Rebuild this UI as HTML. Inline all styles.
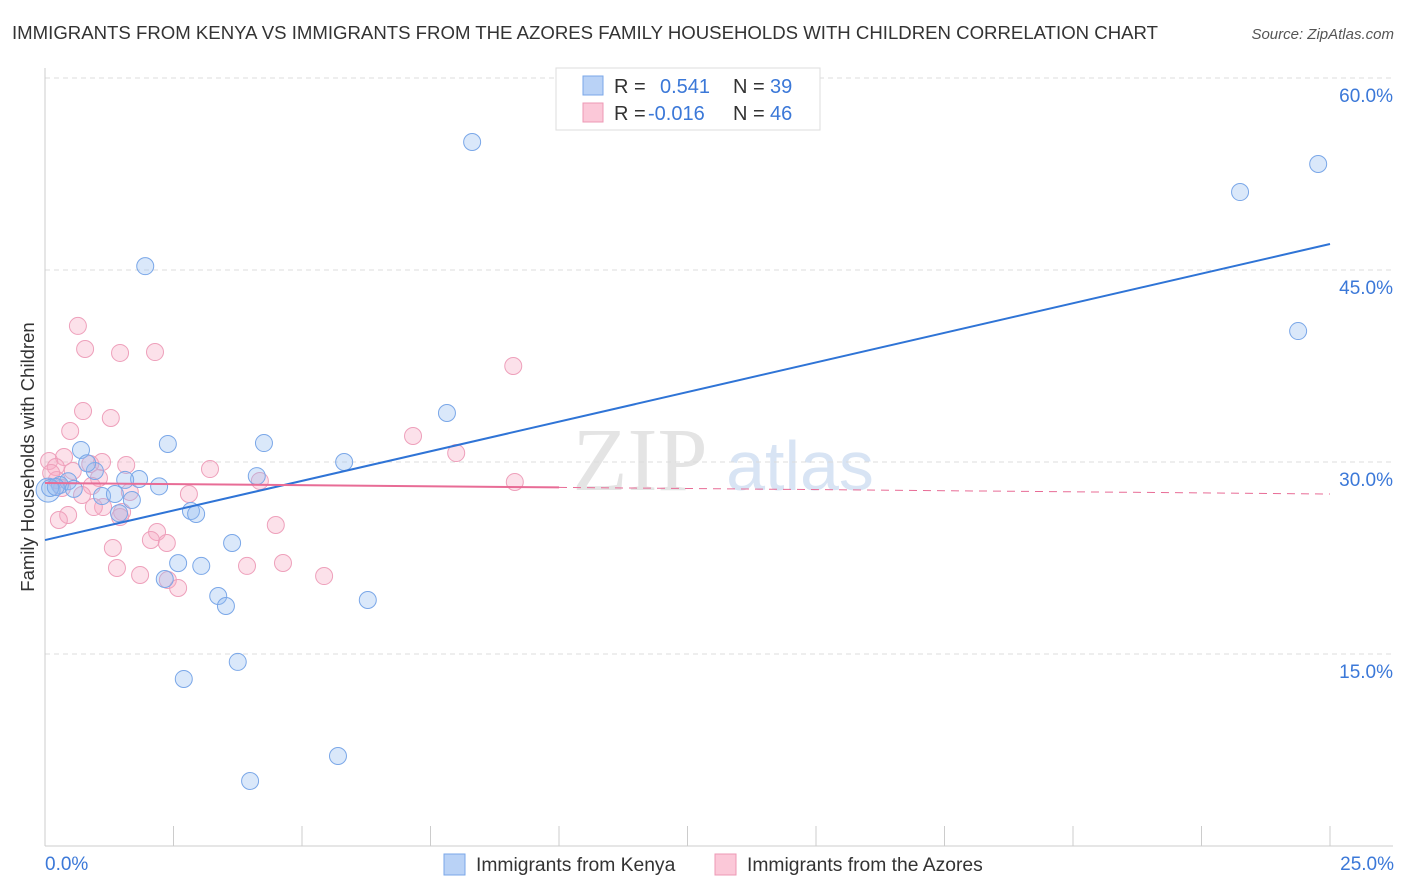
<!DOCTYPE html>
<html><head><meta charset="utf-8"><style>
body{margin:0;background:#fff;font-family:"Liberation Sans",sans-serif}
svg{display:block}
</style></head><body>
<svg id="c" width="1406" height="892" xmlns="http://www.w3.org/2000/svg">
<text x="12" y="39" font-size="18.6" fill="#333" textLength="1146" lengthAdjust="spacingAndGlyphs">IMMIGRANTS FROM KENYA VS IMMIGRANTS FROM THE AZORES FAMILY HOUSEHOLDS WITH CHILDREN CORRELATION CHART</text>
<text x="1394" y="39" font-size="15" fill="#555" text-anchor="end" font-style="italic">Source: ZipAtlas.com</text>
<text x="640" y="490" font-size="90" fill="#e4e4e4" font-family="Liberation Serif,serif" text-anchor="middle">ZIP</text>
<text x="800" y="490" font-size="70" fill="#d8e4f4" text-anchor="middle">atlas</text>
<g id="grid"></g>
<g id="axes"></g>
<g id="pts"></g>
<g id="lines"></g>
<text transform="translate(34,457) rotate(-90)" font-size="18.5" fill="#333" text-anchor="middle">Family Households with Children</text>
<text x="45" y="870" font-size="19" fill="#3b78d8">0.0%</text>
<text x="1394" y="870" font-size="19" fill="#3b78d8" text-anchor="end">25.0%</text>
<g>
<rect x="556" y="68" width="264" height="62" fill="#fff" stroke="#ddd"/>
<rect x="583" y="76" width="20" height="19" fill="#b9d2f6" stroke="#7aa7e8"/>
<rect x="583" y="103" width="20" height="19" fill="#fbc8d8" stroke="#ee98b5"/>
<text x="614" y="93" font-size="20" fill="#333">R =</text>
<text x="660" y="93" font-size="20" fill="#3b78d8">0.541</text>
<text x="733" y="93" font-size="20" fill="#333">N =</text>
<text x="770" y="93" font-size="20" fill="#3b78d8">39</text>
<text x="614" y="120" font-size="20" fill="#333">R =</text>
<text x="648" y="120" font-size="20" fill="#3b78d8">-0.016</text>
<text x="733" y="120" font-size="20" fill="#333">N =</text>
<text x="770" y="120" font-size="20" fill="#3b78d8">46</text>
</g>
<g>
<rect x="444" y="854" width="21" height="21" fill="#b9d2f6" stroke="#7aa7e8"/>
<text x="476" y="871" font-size="19.3" fill="#333">Immigrants from Kenya</text>
<rect x="715" y="854" width="21" height="21" fill="#fbc8d8" stroke="#ee98b5"/>
<text x="747" y="871" font-size="19.3" fill="#333">Immigrants from the Azores</text>
</g>
</svg>
<script>
const yTicks=[15,30,45,60];
const xTicks=[0,2.5,5,7.5,10,12.5,15,17.5,20,22.5,25];
const kenyaX=[8.31,24.77,23.25,1.95,24.38,7.82,2.39,4.26,0.70,5.82,0.97,4.12,0.82,1.83,1.56,0.45,0.29,0.56,1.11,1.36,1.69,2.84,2.94,1.44,3.64,2.59,3.04,2.33,3.37,3.52,6.28,3.75,2.70,5.70,3.99,0.06,0.10,2.22,0.21];
const kenyaY=[55.0,53.28,51.09,45.3,40.23,33.83,31.41,31.48,30.94,30.0,29.3,28.9,29.9,28.67,28.6,28.5,28.2,27.9,27.34,27.5,27.03,26.17,25.94,26.0,23.67,22.1,21.88,20.86,19.53,18.75,19.22,14.38,13.05,7.03,5.08,27.8,27.97,28.1,28.05];
const azoresX=[0.64,0.78,1.46,2.14,9.11,0.74,1.28,0.49,7.16,8.0,0.37,0.08,0.88,1.58,3.21,0.21,0.54,1.05,9.14,4.18,0.23,2.80,1.13,0.95,0.45,1.5,0.27,4.49,2.18,2.06,2.37,1.32,1.4,1.85,3.93,4.63,5.43,2.39,2.59,0.12,1.11,0.33,0.91,0.72,1.46,1.65];
const azoresY=[40.63,38.83,38.52,38.59,37.5,33.98,33.44,32.42,32.03,30.7,30.39,30.08,29.84,29.77,29.45,29.61,29.3,28.75,28.44,28.52,28.59,27.5,26.48,26.48,25.86,26.09,25.47,25.08,24.53,23.91,23.67,23.28,21.72,21.17,21.88,22.11,21.09,20.78,20.16,29.14,30.0,27.97,28.13,27.42,25.7,27.66];
const kenyaTrend=[23.9,47.03];
const azoresTrend=[28.36,27.5];
const X=v=>45+v*51.4, Y=v=>846-v*12.8;
const NS="http://www.w3.org/2000/svg";
function mk(t,a,p){const e=document.createElementNS(NS,t);for(const k in a)e.setAttribute(k,a[k]);document.getElementById(p).appendChild(e);return e;}
yTicks.forEach(t=>{
 const l=mk('line',{x1:45,x2:1393,y1:Y(t),y2:Y(t),stroke:'#ddd','stroke-dasharray':'5,4'},'grid');
 
 
 const tx=mk('text',{x:1393,y:Y(t)+24,'font-size':19,fill:'#3b78d8','text-anchor':'end'},'grid');
 tx.textContent=t.toFixed(1)+'%';
 
 
});
let a=mk('line',{x1:45,x2:1393,y1:846,y2:846,stroke:'#ccc'},'axes');


a=mk('line',{x1:45,x2:45,y1:68,y2:846,stroke:'#ccc'},'axes');


xTicks.forEach(t=>{
 const l=mk('line',{x1:X(t),x2:X(t),y1:826,y2:846,stroke:'#ccc'},'axes');
 
 
});
azoresX.forEach((x,i)=>{
 const c=mk('circle',{cx:X(x),cy:Y(azoresY[i]),r:8.5,fill:'rgba(246,170,196,0.35)',stroke:'#eea0bb','stroke-width':1},'pts');
 
 
});
kenyaX.forEach((x,i)=>{
 const c=mk('circle',{cx:X(x),cy:Y(kenyaY[i]),r:i==35?12:8.5,fill:'rgba(150,190,240,0.35)',stroke:'#7aa7e8','stroke-width':1},'pts');
 
 
});
let l=mk('line',{x1:X(0),y1:Y(kenyaTrend[0]),x2:X(25),y2:Y(kenyaTrend[1]),stroke:'#2f74d6','stroke-width':2},'lines');


const az=v=>azoresTrend[0]+(azoresTrend[1]-azoresTrend[0])*v/25;
l=mk('line',{x1:X(0),y1:Y(az(0)),x2:X(10),y2:Y(az(10)),stroke:'#e86c96','stroke-width':2},'lines');


l=mk('line',{x1:X(10),y1:Y(az(10)),x2:X(25),y2:Y(az(25)),stroke:'#e86c96','stroke-width':1,'stroke-dasharray':'8,6'},'lines');


</script>
</body></html>
